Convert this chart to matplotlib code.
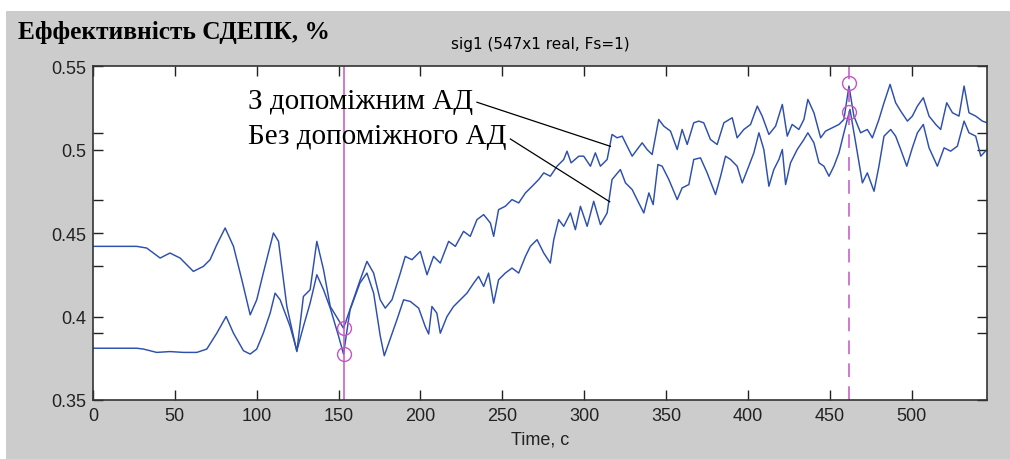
import matplotlib
matplotlib.use("Agg")
import matplotlib.pyplot as plt
from matplotlib.patches import Rectangle
import numpy as np

# ---- data ----
t_with = [0, 26.7, 32.8, 41, 47, 53.2, 61.3, 67.4, 71.5, 75.6, 80.7, 85.8, 90.9, 96, 100, 104,
          110.2, 113.3, 118.4, 124.5, 128.5, 132.6, 136.7, 140.8, 144.9, 149.9, 153, 159, 163.2,
          167.3, 171.4, 175.4, 178.5, 182.6, 187.7, 190.7, 194.8, 199.9, 204, 208, 212.1, 217.2,
          221.3, 226.3, 230.4, 234.5, 238.6, 242.7, 244.7, 247.7, 251.8, 255.9, 260, 264.1, 268.2,
          272.2, 275.3, 279.3, 283.4, 287.5, 289.5, 292, 296.7, 299.7, 303.8, 306.8, 309.9, 314,
          317, 320.1, 323.2, 326.2, 329.3, 332.3, 335.4, 338.4, 341.5, 345.5, 348.6, 352.7, 356.8,
          359.8, 362.9, 366.9, 370, 373, 377.1, 381.2, 385.3, 390.4, 393.4, 397.5, 401.6, 405.7,
          408.7, 412.8, 416.9, 421, 424, 427, 431.1, 434.2, 436.6, 440.3, 444.4, 447.4, 451.5,
          455.6, 458.6, 461.7, 464.7, 468.8, 472.9, 476, 480, 483.1, 486.8, 490.2, 493.3, 497.4,
          500.4, 503.5, 507.1, 510.6, 514.7, 517.7, 521.4, 524.9, 528.9, 532, 535, 539.1, 543.2, 546]
v_with = [0.442, 0.442, 0.441, 0.435, 0.438, 0.435, 0.427, 0.430, 0.434, 0.443, 0.453, 0.442,
          0.422, 0.401, 0.410, 0.426, 0.450, 0.445, 0.406, 0.379, 0.412, 0.416, 0.445, 0.428,
          0.406, 0.398, 0.393, 0.410, 0.422, 0.433, 0.426, 0.410, 0.405, 0.410, 0.426, 0.436,
          0.434, 0.439, 0.425, 0.436, 0.432, 0.445, 0.442, 0.451, 0.448, 0.458, 0.461, 0.456,
          0.448, 0.464, 0.466, 0.470, 0.468, 0.474, 0.478, 0.482, 0.486, 0.484, 0.490, 0.494,
          0.499, 0.492, 0.496, 0.496, 0.490, 0.498, 0.490, 0.494, 0.509, 0.507, 0.508, 0.502,
          0.496, 0.500, 0.504, 0.500, 0.497, 0.518, 0.514, 0.511, 0.500, 0.512, 0.503, 0.516,
          0.517, 0.516, 0.506, 0.503, 0.516, 0.519, 0.507, 0.512, 0.515, 0.526, 0.520, 0.509,
          0.514, 0.527, 0.508, 0.515, 0.512, 0.518, 0.530, 0.522, 0.507, 0.511, 0.513, 0.515,
          0.518, 0.538, 0.520, 0.510, 0.512, 0.507, 0.518, 0.528, 0.539, 0.528, 0.523, 0.517,
          0.520, 0.526, 0.531, 0.520, 0.515, 0.512, 0.528, 0.522, 0.520, 0.538, 0.522, 0.520,
          0.517, 0.516]

t_without = [0, 26.7, 30.8, 38.9, 47, 55.2, 63.4, 69.5, 75.6, 81.3, 85.8, 91.9, 96, 100, 104,
             108.2, 111.2, 114.3, 120.4, 124.5, 128.5, 132.6, 136.7, 140.8, 144.9, 149.9, 153,
             157, 163, 167.3, 171.4, 175.4, 177.9, 181.5, 185.6, 189.7, 193.8, 198.9, 202.9, 205,
             207, 210, 212.1, 216.2, 220.2, 224.3, 228.4, 232.5, 235.5, 238.6, 241.6, 244.7,
             247.7, 251.8, 255.9, 260, 264.1, 267.1, 271.2, 275.3, 279.3, 281.4, 284.4, 287.5,
             291.6, 294.6, 297.7, 301.8, 305.8, 309.9, 314, 317, 322.1, 325.2, 329.3, 332.3,
             336.4, 339.5, 342.1, 345, 347.6, 351.7, 356.8, 359.8, 363.9, 366.9, 371, 375.1,
             380.2, 383.3, 386.3, 389.4, 393.4, 396.5, 400.5, 403.6, 406.7, 409.7, 412.8, 415.8,
             418.9, 421, 423, 426, 430.1, 434.2, 436.6, 440.3, 443.4, 446.4, 449.5, 452.5, 455.6,
             458.6, 462.3, 465.8, 469.9, 472.9, 477, 480, 483.1, 487.2, 490.2, 493.3, 497, 500.4,
             503.5, 507.1, 510.6, 515.7, 519.8, 523.8, 527.9, 532, 535, 539.1, 542.2, 546]
v_without = [0.381, 0.381, 0.3805, 0.3785, 0.379, 0.3785, 0.3785, 0.3805, 0.390, 0.400, 0.390,
             0.3795, 0.3775, 0.3805, 0.390, 0.402, 0.414, 0.410, 0.394, 0.3795, 0.394, 0.408,
             0.425, 0.416, 0.405, 0.3885, 0.3775, 0.404, 0.420, 0.426, 0.414, 0.3885, 0.3765,
             0.3865, 0.398, 0.410, 0.409, 0.405, 0.394, 0.3895, 0.406, 0.402, 0.390, 0.400,
             0.406, 0.410, 0.414, 0.420, 0.424, 0.418, 0.426, 0.408, 0.422, 0.426, 0.429, 0.426,
             0.436, 0.442, 0.446, 0.438, 0.432, 0.446, 0.458, 0.454, 0.462, 0.452, 0.466, 0.454,
             0.469, 0.455, 0.462, 0.482, 0.488, 0.480, 0.476, 0.470, 0.462, 0.474, 0.467, 0.491,
             0.490, 0.482, 0.470, 0.477, 0.479, 0.494, 0.495, 0.486, 0.473, 0.484, 0.496, 0.494,
             0.490, 0.480, 0.490, 0.498, 0.510, 0.500, 0.478, 0.488, 0.494, 0.500, 0.479, 0.492,
             0.500, 0.506, 0.510, 0.504, 0.492, 0.490, 0.484, 0.490, 0.498, 0.510, 0.524, 0.504,
             0.480, 0.486, 0.475, 0.490, 0.508, 0.512, 0.508, 0.500, 0.490, 0.501, 0.510, 0.515,
             0.501, 0.490, 0.501, 0.499, 0.502, 0.517, 0.510, 0.508, 0.496, 0.500]

marker_t1 = 153
marker_v1 = [0.393, 0.3775]
marker_t2 = 462
marker_v2 = [0.5398, 0.5225]

label_with = "З допоміжним АД"
label_without = "Без допоміжного АД"
y_label = "Еффективність СДЕПК, %"
plot_title = "sig1 (547x1 real, Fs=1)"
x_label = "Time, c"
xticks = [0, 50, 100, 150, 200, 250, 300, 350, 400, 450, 500]
yticks = [0.35, 0.4, 0.45, 0.5, 0.55]
ytick_labels = ["0.35", "0.4", "0.45", "0.5", "0.55"]
yminor = [0.39, 0.43, 0.47, 0.51]

# ---- figure ----
W, H = 1010, 460
fig = plt.figure(figsize=(W / 100, H / 100), dpi=100, facecolor="#cccccc")
fig.patches.append(Rectangle((0, (H - 12) / H), 1, 12 / H, transform=fig.transFigure,
                             facecolor="white", edgecolor="none"))
fig.patches.append(Rectangle((0, 0), 6 / W, 1, transform=fig.transFigure,
                             facecolor="white", edgecolor="none"))

ax = fig.add_axes([93 / W, (H - 401) / H, (987 - 93) / W, (401 - 67) / H])
ax.set_facecolor("white")

line_col = "#2d4fae"
mag = "#c455c4"

ax.plot(t_with, v_with, color=line_col, lw=1.05)
ax.plot(t_without, v_without, color=line_col, lw=1.05)

ax.axvline(marker_t1, color=mag, lw=1.1)
ax.axvline(marker_t2, color=mag, lw=1.1, dashes=(9, 6))
ax.plot([marker_t1] * 2, marker_v1, "o", mfc="none", mec=mag, ms=10, mew=1.0)
ax.plot([marker_t2] * 2, marker_v2, "o", mfc="none", mec=mag, ms=10, mew=1.0)

ax.set_xlim(0, 546)
ax.set_ylim(0.35, 0.55)
ax.set_xticks(xticks)
ax.set_yticks(yticks)
ax.set_yticklabels(ytick_labels)
ax.set_yticks(yminor, minor=True)
ax.tick_params(which="both", direction="in", top=True, right=True, length=7, width=1,
               color="#222222", labelsize=13, pad=5)
ax.tick_params(which="minor", length=7)
for lab in ax.get_xticklabels() + ax.get_yticklabels():
    lab.set_family("Liberation Sans")
    lab.set_color("#222222")
for s in ax.spines.values():
    s.set_color("#333333")
    s.set_linewidth(1.2)

ax.set_xlabel(x_label, family="Liberation Sans", fontsize=13, color="#222222", labelpad=5)

# annotations
ax.text(94.7, 0.529, label_with, family="Liberation Serif", fontsize=21, ha="left", va="center")
ax.text(94.7, 0.508, label_without, family="Liberation Serif", fontsize=21, ha="left", va="center")
ax.plot([234.5, 316], [0.5283, 0.5019], color="black", lw=0.9)
ax.plot([254.9, 315.6], [0.5063, 0.4687], color="black", lw=0.9)

fig.text(18 / W, 1 - 33 / H, y_label, family="Liberation Serif", fontsize=18.3,
         fontweight="bold", ha="left", va="center")
fig.text(540 / W, 1 - 45 / H, plot_title, family="DejaVu Sans", fontsize=11,
         ha="center", va="center")

fig.savefig("out.png", dpi=100, facecolor=fig.get_facecolor())
